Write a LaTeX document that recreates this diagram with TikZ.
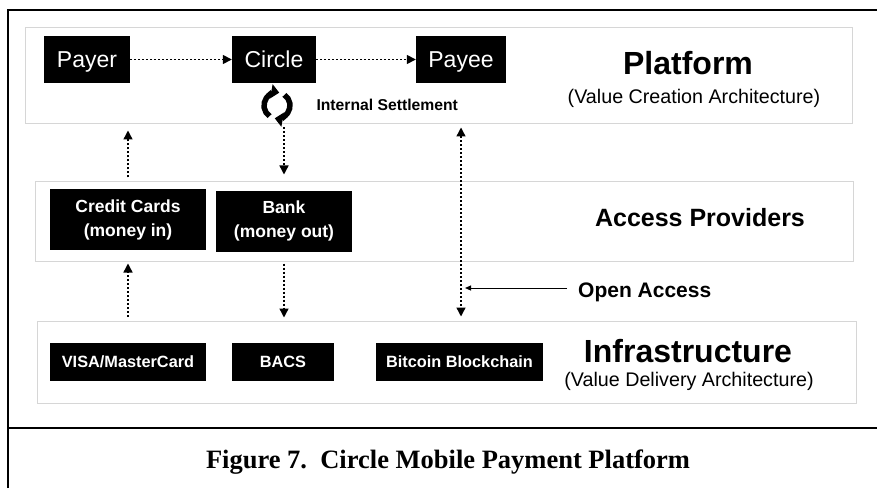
\documentclass[tikz,border=0pt]{standalone}
\usepackage{fontspec}
\setmainfont{Liberation Sans}
\newfontfamily\capfont{Liberation Serif}
\usetikzlibrary{arrows.meta}

\tikzset{
    band/.style={rectangle,draw=black!16,line width=1pt,fill=white},
    blackbox/.style={rectangle,fill=black,text=white,inner sep=0pt,align=center},
    oneline/.style={text height=#1,text depth=0pt},
    flow/.style={line width=1.4pt,dash pattern=on 2pt off 2pt,-{Triangle[length=9pt,width=9pt]}},
    flowboth/.style={line width=1.4pt,dash pattern=on 2pt off 2pt,{Triangle[length=9pt,width=9pt]}-{Triangle[length=9pt,width=9pt]}},
    turn/.style={line width=5.5pt,-{Triangle[length=8pt,width=14pt]}},
}

\begin{document}
\begin{tikzpicture}[x=1pt,y=1pt]
    \useasboundingbox (0,0) rectangle (877,488);
    % frame
    \draw[line width=2pt] (8,0) -- (8,478) -- (877,478);
    \draw[line width=2pt] (8,60) -- (877,60);

    % bands
    \node (platform) at (438.5,412) [band,minimum width=827pt,minimum height=96pt] {};
    \node (access) at (444,266.5) [band,minimum width=818pt,minimum height=79pt] {};
    \node (infra) at (446.5,126) [band,minimum width=819pt,minimum height=82pt] {};

    % nodes
    \node (payer) at (87,428.5) [blackbox,oneline=16.5pt,minimum width=86pt,minimum height=47pt,font=\fontsize{23}{27}\selectfont] {Payer};
    \node (circle) at (274,428.5) [blackbox,oneline=16.5pt,minimum width=84pt,minimum height=47pt,font=\fontsize{23}{27}\selectfont] {Circle};
    \node (payee) at (461,428.5) [blackbox,oneline=16.5pt,minimum width=90pt,minimum height=47pt,font=\fontsize{23}{27}\selectfont] {Payee};
    \coordinate (settle) at (277,382.5);
    \node (internal) at (313,383) [anchor=west,oneline=11.2pt,font=\fontsize{15.7}{18}\selectfont\bfseries] {Internal Settlement};
    \node (platformtitle) at (688,425) [oneline=22.9pt,inner sep=0pt,font=\fontsize{32}{36}\selectfont\bfseries] {Platform};
    \node (creation) at (694,390) [font=\fontsize{19.7}{23}\selectfont] {(Value Creation Architecture)};

    \node (cc) at (128,268.5) [blackbox,minimum width=156pt,minimum height=61pt,font=\fontsize{17.5}{24}\selectfont\bfseries] {Credit Cards\\(money in)};
    \node (bank) at (284,267) [blackbox,minimum width=136pt,minimum height=61pt,font=\fontsize{17.5}{24}\selectfont\bfseries] {Bank\\(money out)};
    \node (accesstitle) at (700,270) [oneline=17.9pt,inner sep=0pt,font=\fontsize{25}{29}\selectfont\bfseries] {Access Providers};

    \node (oa) at (578,198) [anchor=west,inner sep=0pt,oneline=15pt,font=\fontsize{21}{25}\selectfont\bfseries] {Open Access};
    \coordinate (oatip) at (465,200);

    \node (visa) at (128,126) [blackbox,oneline=11.7pt,minimum width=156pt,minimum height=38pt,font=\fontsize{16.3}{19}\selectfont\bfseries] {VISA/MasterCard};
    \node (bacs) at (283,126) [blackbox,oneline=11.7pt,minimum width=102pt,minimum height=38pt,font=\fontsize{16.3}{19}\selectfont\bfseries] {BACS};
    \node (bitcoin) at (459.5,126) [blackbox,oneline=11.7pt,minimum width=167pt,minimum height=38pt,font=\fontsize{16.3}{19}\selectfont\bfseries] {Bitcoin Blockchain};
    \node (infratitle) at (688,137) [oneline=22.9pt,inner sep=0pt,font=\fontsize{32}{36}\selectfont\bfseries] {Infrastructure};
    \node (delivery) at (689,107) [font=\fontsize{19.7}{23}\selectfont] {(Value Delivery Architecture)};

    \node (caption) at (448,26) [font=\capfont\fontsize{26.5}{30}\selectfont\bfseries] {Figure 7.\ \ Circle Mobile Payment Platform};

    % paths
    \draw[flow] (payer.east) -- (circle.west); % payer -> circle
    \draw[flow] (circle.east) -- (payee.west); % circle -> payee
    \draw[turn] ([shift={(235:13pt)}]settle) arc[start angle=235,end angle=80,radius=13pt];
    \draw[turn] ([shift={(55:13pt)}]settle) arc[start angle=55,end angle=-100,radius=13pt];

    \draw[flow] ([yshift=4pt]access.north -| cc) -- ([yshift=-6pt]platform.south -| cc); % cards -> platform
    \draw[flow] ([yshift=-3pt]platform.south -| bank) -- ([yshift=7pt]access.north -| bank); % circle -> bank
    \draw[flow] ([yshift=4pt]infra.north -| cc) -- ([yshift=-2pt]access.south -| cc); % visa -> cards
    \draw[flow] ([yshift=-2pt]access.south -| bank) -- ([yshift=3pt]infra.north -| bank); % bank -> bacs
    \draw[flowboth] ([yshift=-3pt]platform.south -| payee) -- ([yshift=4pt]infra.north -| payee); % payee <-> bitcoin
    \draw[line width=1pt,-{Triangle[length=6pt,width=5pt]},shorten <=11pt] (oa.west |- oatip) -- (oatip); % open access

\end{tikzpicture}
\end{document}
